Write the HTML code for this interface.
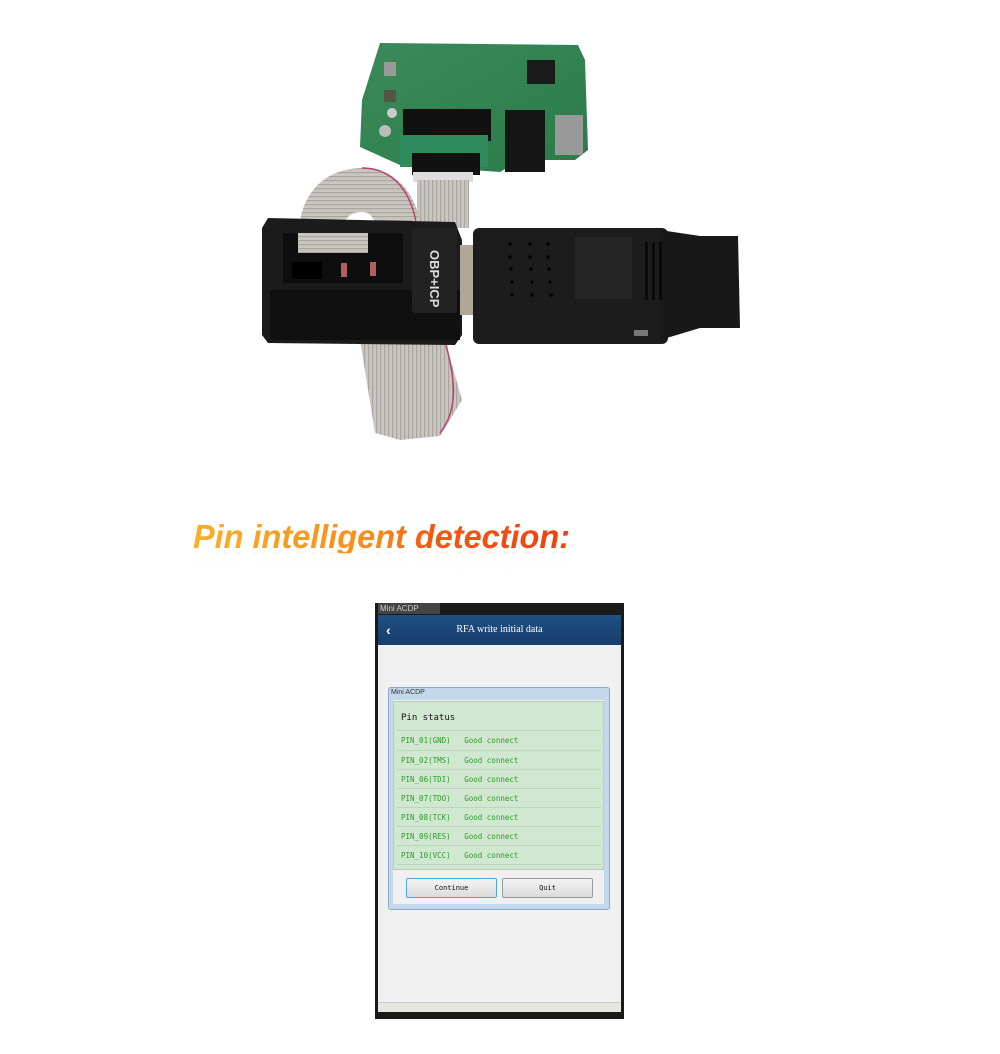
<!DOCTYPE html>
<html><head><meta charset="utf-8">
<style>
html,body{margin:0;padding:0;background:#fff;}
body{width:1000px;height:1054px;position:relative;overflow:hidden;font-family:"Liberation Sans",sans-serif;}
.abs{position:absolute;}
.mono{font-family:"DejaVu Sans Mono","Liberation Mono",monospace;}
</style></head><body>

<svg class="abs" style="left:0;top:0" width="1000" height="460" viewBox="0 0 1000 460">
  <defs>
    <pattern id="rib" width="4" height="4" patternUnits="userSpaceOnUse">
      <rect width="4" height="4" fill="#c9c6c1"/><rect width="1.2" height="4" fill="#a9a6a1"/>
    </pattern>
    <pattern id="ribh" width="4" height="4" patternUnits="userSpaceOnUse">
      <rect width="4" height="4" fill="#c9c6c1"/><rect width="4" height="1.2" fill="#a9a6a1"/>
    </pattern>
    <linearGradient id="pcb" x1="0" y1="0" x2="1" y2="1">
      <stop offset="0" stop-color="#3c8a5a"/><stop offset="1" stop-color="#2a7a4a"/>
    </linearGradient>
  </defs>
  <!-- PCB -->
  <polygon points="380,43 578,45 585,60 588,150 575,160 520,160 500,172 400,165 360,147 362,100" fill="url(#pcb)"/>
  <rect x="527" y="60" width="28" height="24" fill="#1a1a1a"/>
  <rect x="384" y="62" width="12" height="14" fill="#999"/>
  <rect x="384" y="90" width="12" height="12" fill="#554"/>
  <circle cx="392" cy="113" r="5" fill="#ccc"/>
  <circle cx="385" cy="131" r="6" fill="#bbb"/>
  <rect x="403" y="109" width="88" height="32" fill="#111"/>
  <rect x="505" y="110" width="40" height="62" fill="#151515"/>
  <rect x="555" y="115" width="28" height="40" fill="#999"/>
  <rect x="400" y="135" width="88" height="32" fill="#2e8c5c"/>
  <rect x="412" y="153" width="68" height="22" fill="#111"/>
  <rect x="413" y="172" width="60" height="10" fill="#ddd"/>
  <!-- cable down from PCB -->
  <rect x="417" y="180" width="52" height="48" fill="url(#rib)"/>
  <!-- loop cable left top -->
  <path d="M322,250 C316,208 336,190 362,190 C384,190 394,206 398,224" stroke="url(#ribh)" stroke-width="44" fill="none"/>
  <path d="M362,168 C392,168 410,190 416,222" stroke="#c0416a" stroke-width="1.5" fill="none"/>
  <!-- lower cable -->
  <polygon points="360,340 445,340 462,400 440,436 400,440 375,433" fill="url(#rib)"/>
  <path d="M445,340 C452,370 462,405 440,433" stroke="#c0416a" stroke-width="1.5" fill="none"/>
  <!-- left box -->
  <path d="M268,218 L455,222 L462,240 L462,335 L455,345 L268,343 L262,335 L262,228 Z" fill="#1b1b1b"/>
  <rect x="270" y="290" width="190" height="50" fill="#101010"/>
  <rect x="283" y="233" width="120" height="50" fill="#0e0e0e"/>
  <rect x="298" y="233" width="70" height="20" fill="url(#ribh)"/>
  <rect x="292" y="262" width="30" height="17" fill="#000"/>
  <rect x="341" y="263" width="6" height="14" fill="#b06060"/>
  <rect x="370" y="262" width="6" height="14" fill="#b06060"/>
  <rect x="412" y="228" width="45" height="85" rx="3" fill="#222"/>
  <text x="0" y="0" transform="translate(430,250) rotate(90)" font-family="Liberation Sans,sans-serif" font-weight="bold" font-size="13" fill="#ddd">OBP+ICP</text>
  <!-- DB connector -->
  <rect x="460" y="245" width="14" height="70" fill="#b0a896"/>
  <!-- right device -->
  <rect x="473" y="228" width="195" height="116" rx="6" fill="#1c1c1c"/>
  <polygon points="660,230 700,236 738,236 740,328 700,328 660,340" fill="#181818"/>
  <rect x="575" y="237" width="57" height="62" fill="#252525"/>
  <g fill="#000">
    <circle cx="510" cy="244" r="1.6"/><circle cx="530" cy="244" r="1.6"/><circle cx="548" cy="244" r="1.6"/>
    <circle cx="510" cy="257" r="1.6"/><circle cx="530" cy="257" r="1.6"/><circle cx="548" cy="257" r="1.6"/>
    <circle cx="511" cy="269" r="1.6"/><circle cx="531" cy="269" r="1.6"/><circle cx="549" cy="269" r="1.6"/>
    <circle cx="512" cy="282" r="1.6"/><circle cx="532" cy="282" r="1.6"/><circle cx="550" cy="282" r="1.6"/>
    <circle cx="512" cy="295" r="1.6"/><circle cx="532" cy="295" r="1.6"/><circle cx="551" cy="295" r="1.6"/>
  </g>
  <rect x="645" y="242" width="3" height="58" fill="#0a0a0a"/>
  <rect x="652" y="242" width="3" height="58" fill="#0a0a0a"/>
  <rect x="659" y="242" width="3" height="58" fill="#0a0a0a"/>
  <rect x="634" y="330" width="14" height="6" fill="#777"/>
</svg>

<!-- heading -->
<svg class="abs" style="left:0;top:500" width="1000" height="80">
  <defs>
    <linearGradient id="hg" x1="190" y1="0" x2="572" y2="0" gradientUnits="userSpaceOnUse">
      <stop offset="0" stop-color="#f8b02a"/><stop offset="0.5" stop-color="#f88a1a"/><stop offset="0.62" stop-color="#f45a14"/><stop offset="1" stop-color="#ee4010"/>
    </linearGradient>
    <linearGradient id="fade" x1="0" y1="50" x2="0" y2="72" gradientUnits="userSpaceOnUse">
      <stop offset="0" stop-color="#fff" stop-opacity="0.75"/><stop offset="1" stop-color="#fff" stop-opacity="1"/>
    </linearGradient>
  </defs>
  <text x="193" y="48" font-family="Liberation Sans,sans-serif" font-style="italic" font-weight="bold" font-size="33" fill="url(#hg)" textLength="377" lengthAdjust="spacingAndGlyphs">Pin intelligent detection:</text>
  <g opacity="0.12" transform="translate(0,100) scale(1,-1)">
    <text x="193" y="48" font-family="Liberation Sans,sans-serif" font-style="italic" font-weight="bold" font-size="33" fill="url(#hg)" textLength="377" lengthAdjust="spacingAndGlyphs">Pin intelligent detection:</text>
  </g>
  <rect x="180" y="53" width="420" height="27" fill="url(#fade)"/>
</svg>

<!-- screenshot -->
<div class="abs" style="left:375px;top:603px;width:249px;height:416px;background:#1a1a1a;"></div>
<div class="abs" style="left:378px;top:603px;width:60px;height:11px;background:#444;font-size:8px;color:#ccc;line-height:11px;padding-left:2px;">Mini ACDP</div>
<div class="abs" style="left:378px;top:615px;width:243px;height:396px;background:#f0f0f0;"></div>
<div class="abs" style="left:378px;top:615px;width:243px;height:30px;background:linear-gradient(#1f4f84,#173e6c);color:#fff;font-family:'Liberation Serif',serif;font-size:10px;line-height:30px;text-align:center;">RFA write initial data</div>
<div class="abs" style="left:386px;top:622px;color:#fff;font-size:14px;font-weight:bold;">‹</div>
<div class="abs" style="left:378px;top:1002px;width:243px;height:9px;background:#e8e6e2;border-top:1px solid #ccc;"></div>
<!-- dialog -->
<div class="abs" style="left:388px;top:687px;width:220px;height:221px;background:#c4d8ec;border:1px solid #8aa8c8;border-radius:3px;"></div>
<div class="abs" style="left:391px;top:689px;font-size:7px;color:#333;">Mini ACDP</div>
<div class="abs" style="left:393px;top:700px;width:211px;height:204px;background:#f0f0f0;"></div>
<div class="abs" style="left:393px;top:701px;width:211px;height:169px;background:#d0e8cf;border:1px solid #b8cdb8;box-sizing:border-box;"></div>
<div class="abs mono" style="left:401px;top:713px;font-size:9px;color:#111;">Pin status</div>
<div class="abs mono" style="left:397px;top:730px;width:204px;font-size:7.5px;color:#2e9a2e;">
  <div style="height:19px;line-height:19px;border-top:1px solid #bcd6bb;padding-left:4px;white-space:pre;">PIN_01(GND)   Good connect</div>
  <div style="height:18px;line-height:19px;border-top:1px solid #bcd6bb;padding-left:4px;white-space:pre;">PIN_02(TMS)   Good connect</div>
  <div style="height:18px;line-height:19px;border-top:1px solid #bcd6bb;padding-left:4px;white-space:pre;">PIN_06(TDI)   Good connect</div>
  <div style="height:18px;line-height:19px;border-top:1px solid #bcd6bb;padding-left:4px;white-space:pre;">PIN_07(TDO)   Good connect</div>
  <div style="height:18px;line-height:19px;border-top:1px solid #bcd6bb;padding-left:4px;white-space:pre;">PIN_08(TCK)   Good connect</div>
  <div style="height:18px;line-height:19px;border-top:1px solid #bcd6bb;padding-left:4px;white-space:pre;">PIN_09(RES)   Good connect</div>
  <div style="height:18px;line-height:19px;border-top:1px solid #bcd6bb;border-bottom:1px solid #bcd6bb;padding-left:4px;white-space:pre;">PIN_10(VCC)   Good connect</div>
</div>
<div class="abs mono" style="left:406px;top:878px;width:89px;height:18px;background:linear-gradient(#f4f4f4,#dcdcdc);border:1px solid #4aa6dc;border-radius:2px;font-size:7px;line-height:18px;text-align:center;color:#111;">Continue</div>
<div class="abs mono" style="left:502px;top:878px;width:89px;height:18px;background:linear-gradient(#f4f4f4,#dcdcdc);border:1px solid #999;border-radius:2px;font-size:7px;line-height:18px;text-align:center;color:#111;">Quit</div>
</body></html>
